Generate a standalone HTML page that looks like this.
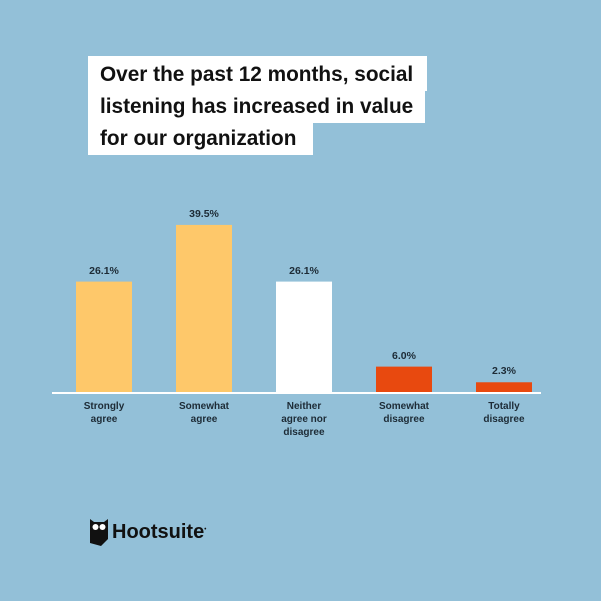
<!DOCTYPE html>
<html><head><style>
body{margin:0;width:601px;height:601px;background:#93c0d8;font-family:"Liberation Sans",sans-serif;overflow:hidden;position:relative}
.tb{position:absolute;background:#fff;left:88px;color:#111;font-size:20.8px;font-weight:bold;padding-left:12px;box-sizing:border-box;line-height:32px}
.lab{position:absolute;width:90px;text-align:center;font-size:10px;font-weight:bold;color:#1d2b36;line-height:13px}
.val{position:absolute;width:70px;text-align:center;font-size:10.5px;font-weight:bold;color:#1d2b36}
</style></head><body>
<div>
<div class="tb" style="top:56px;width:339px;height:35px;padding-top:3px">Over the past 12 months, social</div>
<div class="tb" style="top:91px;width:337px;height:32px">listening has increased in value</div>
<div class="tb" style="top:123px;width:225px;height:32px">for our organization</div>
</div>
<svg id="chart" width="601" height="601" style="position:absolute;left:0;top:0"></svg>
<div id="labels"></div>
<div style="position:absolute;left:90px;top:519px;display:flex;align-items:center">
<svg width="18" height="27" viewBox="0 0 18 27"><path d="M0 0 L4 3 L14 3 L18 0 L18 20 L11 27 L0 24Z" fill="#111"/><circle cx="5.5" cy="8" r="3" fill="#fff"/><circle cx="12.5" cy="8" r="3" fill="#fff"/></svg>
<span style="font-size:20px;font-weight:bold;color:#111;margin-left:4px">Hootsuite<sup style="font-size:6px">•</sup></span>
</div>
<script>
const categories=["Strongly agree","Somewhat agree","Neither agree nor disagree","Somewhat disagree","Totally disagree"];
const labelLines=[["Strongly","agree"],["Somewhat","agree"],["Neither","agree nor","disagree"],["Somewhat","disagree"],["Totally","disagree"]];
const values=[26.1,39.5,26.1,6.0,2.3];
const colors=["#fec86a","#fec86a","#ffffff","#e8490f","#e8490f"];
const base=392,scale=4.23,x0=76,step=100,bw=56;
const y=v=>base-v*scale, x=i=>x0+i*step;
const svg=document.getElementById('chart'),ns="http://www.w3.org/2000/svg";
const L=document.getElementById('labels');
values.forEach((v,i)=>{
 const r=document.createElementNS(ns,'rect');
 
 
 r.setAttribute('x',x(i));r.setAttribute('y',y(v));r.setAttribute('width',bw);r.setAttribute('height',base-y(v));r.setAttribute('fill',colors[i]);
 svg.appendChild(r);
 const d=document.createElement('div');d.className='val';
 
 
 d.style.left=(x(i)+bw/2-35)+'px';d.style.top=(y(v)-17)+'px';d.textContent=v.toFixed(1)+'%';L.appendChild(d);
 const c=document.createElement('div');c.className='lab';
 
 
 c.style.left=(x(i)+bw/2-45)+'px';c.style.top='400px';c.innerHTML=labelLines[i].join('<br>');L.appendChild(c);
});
const ax=document.createElementNS(ns,'line');


ax.setAttribute('x1',52);ax.setAttribute('x2',541);ax.setAttribute('y1',base+1);ax.setAttribute('y2',base+1);ax.setAttribute('stroke','#fff');ax.setAttribute('stroke-width',2);
svg.appendChild(ax);
</script>
</body></html>
